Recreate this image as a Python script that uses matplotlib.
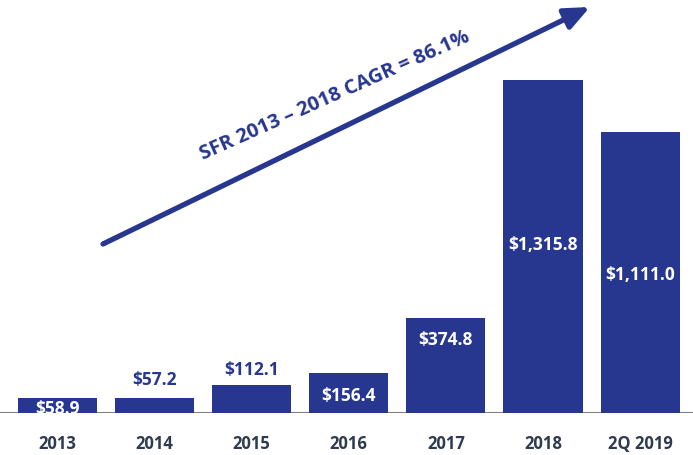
import matplotlib.pyplot as plt

categories = ["2013", "2014", "2015", "2016", "2017", "2018", "2Q 2019"]
values = [58.9, 57.2, 112.1, 156.4, 374.8, 1315.8, 1111.0]
# bar heights as drawn in the source (2014 bar is drawn same as 2013)
heights = [58.9, 58.9, 112.1, 156.4, 374.8, 1315.8, 1111.0]
labels = ["$58.9", "$57.2", "$112.1", "$156.4", "$374.8", "$1,315.8", "$1,111.0"]
label_inside = [True, False, False, True, True, True, True]
label_y = [20, 134, 174, 71, 292, 668, 549]
cagr_text = "SFR 2013 \u2013 2018 CAGR = 86.1%"

bar_color = "#27378F"
tick_color = "#2F3B4F"

plt.rcParams["font.family"] = ["Open Sans", "DejaVu Sans"]

fig = plt.figure(figsize=(6.93, 4.56), dpi=100)
ax = fig.add_axes([0, 42 / 456, 1, 414 / 456])

x = list(range(len(categories)))
ax.bar(x, heights, width=0.815, color=bar_color, zorder=2)
ax.set_xlim(-0.592, 6.545)
ax.set_ylim(0, 1636)

for i in x:
    c = "white" if label_inside[i] else bar_color
    ax.text(i, label_y[i], labels[i], ha="center", va="center",
            color=c, fontsize=12.5, fontweight="bold", zorder=3)

ax.axhline(0, color="#808080", lw=1.5, zorder=1)
for s in ax.spines.values():
    s.set_visible(False)
ax.set_yticks([])
ax.set_xticks(x)
ax.set_xticklabels(categories, fontsize=12, fontweight="bold", color=tick_color)
ax.tick_params(axis="x", length=0, pad=15)

# growth arrow and CAGR label (figure pixel coordinates)
ax.annotate("", xy=(590, 448), xytext=(103, 211), xycoords="figure pixels",
            textcoords="figure pixels",
            arrowprops=dict(arrowstyle="-|>,head_length=1.5,head_width=0.65",
                            color=bar_color, lw=3.8, shrinkA=0, shrinkB=0))
fig.text(335, 360, cagr_text, transform=None, rotation=24,
         rotation_mode="anchor", ha="center", va="center",
         color=bar_color, fontsize=14.5, fontweight="bold")

fig.savefig("out.png", dpi=100)
